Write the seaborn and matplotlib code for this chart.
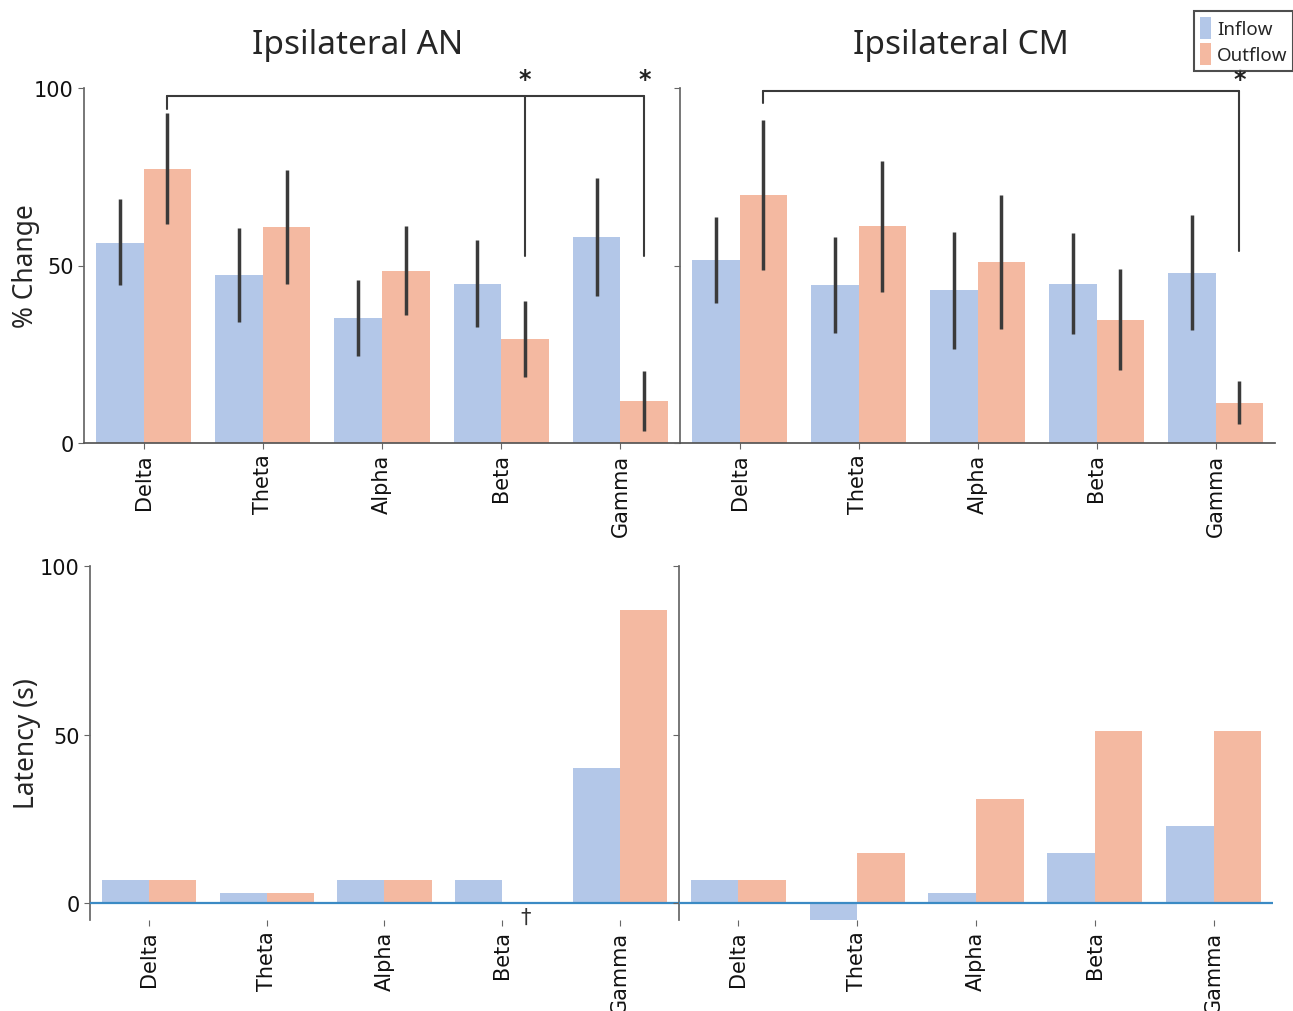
import matplotlib
matplotlib.use("Agg")
import matplotlib.pyplot as plt
from matplotlib.patches import Patch
import numpy as np
import pandas as pd
import seaborn as sns

bands = ["Delta", "Theta", "Alpha", "Beta", "Gamma"]
flows = ["Inflow", "Outflow"]

# % change, ipsilateral AN
an_in = [56.3, 47.3, 35.2, 44.8, 58.0]
an_in_lo = [44.5, 34.1, 24.5, 32.7, 41.4]
an_in_hi = [68.7, 60.6, 45.9, 57.2, 74.6]
an_out = [77.2, 60.8, 48.5, 29.3, 11.8]
an_out_lo = [61.7, 44.8, 36.1, 18.6, 3.4]
an_out_hi = [93.0, 76.9, 61.1, 40.0, 20.3]

# % change, ipsilateral CM
cm_in = [51.5, 44.5, 43.1, 44.8, 47.9]
cm_in_lo = [39.4, 31.0, 26.5, 30.7, 31.8]
cm_in_hi = [63.7, 58.0, 59.4, 59.2, 64.2]
cm_out = [69.9, 61.1, 51.0, 34.6, 11.3]
cm_out_lo = [48.7, 42.5, 32.1, 20.6, 5.4]
cm_out_hi = [91.0, 79.4, 69.9, 49.0, 17.5]

# latency (s)
an_lat_in = [7, 3, 7, 7, 40]
an_lat_out = [7, 3, 7, 0, 87]
cm_lat_in = [7, -5, 3, 15, 23]
cm_lat_out = [7, 15, 31, 51, 51]

# significance brackets: bar level, where each leg ends, which legs get a star
star_y = 102.6
an_bracket_y = 97.7
an_bracket_drops = {"Delta": 94.0, "Beta": 52.7, "Gamma": 52.7}
an_stars = ["Beta", "Gamma"]
cm_bracket_y = 99.2
cm_bracket_drops = {"Delta": 95.8, "Gamma": 54.1}
cm_stars = ["Gamma"]

colors = {"Inflow": "#b3c7e8", "Outflow": "#f4b9a1"}
err_color = "#3a3a3a"


def long_df(inflow, outflow):
    return pd.DataFrame({
        "band": bands * 2,
        "flow": ["Inflow"] * 5 + ["Outflow"] * 5,
        "value": list(inflow) + list(outflow),
    })


def bar_centers(ax):
    # patches come out hue by hue: inflow bars, then outflow bars
    xs = [p.get_x() + p.get_width() / 2 for p in ax.patches]
    return np.array(xs[:5]), np.array(xs[5:10])


def draw_bars(ax, inflow, outflow):
    sns.barplot(data=long_df(inflow, outflow), x="band", y="value", hue="flow",
                order=bands, hue_order=flows, palette=colors, errorbar=None,
                saturation=1, legend=False, ax=ax, linewidth=0)
    ax.set_xlabel("")
    ax.set_ylabel("")
    return bar_centers(ax)


def draw_err(ax, x, lo, hi):
    ax.vlines(x, lo, hi, color=err_color, lw=2.5, zorder=3)


def draw_bracket(ax, x_out, level, drops, stars):
    idx = [bands.index(b) for b in drops]
    xs = x_out[idx]
    ax.plot([xs.min(), xs.max()], [level, level], color=err_color, lw=1.5, clip_on=False)
    for b, x in zip(drops, xs):
        ax.plot([x, x], [level, drops[b]], color=err_color, lw=1.5, clip_on=False)
    for b in stars:
        ax.text(x_out[bands.index(b)], star_y, "*", ha="center", va="center",
                fontsize=17, fontweight="bold", color="#222222", clip_on=False,
                zorder=5)


sns.set_theme(style="ticks")
plt.rcParams["font.family"] = ["DejaVu Sans"]

fig = plt.figure(figsize=(12.93, 10.12), dpi=100)
W, H = 1293, 1012


def px_axes(x0, y0, x1, y1):
    return fig.add_axes([x0 / W, 1 - y1 / H, (x1 - x0) / W, (y1 - y0) / H])


ax_tl = px_axes(84, 89, 680, 444)
ax_tr = px_axes(680, 89, 1275, 444)
ax_bl = px_axes(90, 567, 679, 921)
ax_br = px_axes(679, 567, 1273, 921)

xi, xo = draw_bars(ax_tl, an_in, an_out)
draw_err(ax_tl, xi, an_in_lo, an_in_hi)
draw_err(ax_tl, xo, an_out_lo, an_out_hi)
draw_bracket(ax_tl, xo, an_bracket_y, an_bracket_drops, an_stars)

xi, xo = draw_bars(ax_tr, cm_in, cm_out)
draw_err(ax_tr, xi, cm_in_lo, cm_in_hi)
draw_err(ax_tr, xo, cm_out_lo, cm_out_hi)
draw_bracket(ax_tr, xo, cm_bracket_y, cm_bracket_drops, cm_stars)

xi, xo = draw_bars(ax_bl, an_lat_in, an_lat_out)
ax_bl.text(xo[bands.index("Beta")], -1.0, "\u2020", ha="center", va="top",
           fontsize=15, color="#333333")
draw_bars(ax_br, cm_lat_in, cm_lat_out)

for ax in (ax_tl, ax_tr):
    ax.set_ylim(0, 100)
    ax.set_xlim(-0.5, 4.5)
    sns.despine(ax=ax)
    ax.spines["bottom"].set_color("#555555")
for ax in (ax_bl, ax_br):
    ax.set_ylim(-5, 100)
    ax.set_xlim(-0.5, 4.5)
    sns.despine(ax=ax, bottom=True)
    ax.axhline(0, color="#3b8ac4", lw=1.6, zorder=4)

for ax in (ax_tl, ax_tr, ax_bl, ax_br):
    ax.set_yticks([0, 50, 100])
    ax.spines["left"].set_color("#666666")
    ax.tick_params(axis="both", labelsize=15, colors="#666666", labelcolor="#111111",
                   length=4, width=0.8)
    ax.tick_params(axis="x", rotation=90)
    ax.set_facecolor("none")

for ax in (ax_tr, ax_br):
    ax.tick_params(axis="y", labelleft=False)

label_font = ["Noto Sans", "DejaVu Sans"]
ax_tl.set_ylabel("% Change", fontsize=19, family=label_font)
ax_bl.set_ylabel("Latency (s)", fontsize=19, family=label_font)
ax_tl.yaxis.set_label_coords(-0.073, 0.5)
ax_bl.yaxis.set_label_coords(-0.083, 0.5)

fig.text(358 / W, 1 - 46 / H, "Ipsilateral AN", ha="center", va="center",
         fontsize=24, family=label_font)
fig.text(961 / W, 1 - 46 / H, "Ipsilateral CM", ha="center", va="center",
         fontsize=24, family=label_font)

handles = [Patch(facecolor=colors[f], edgecolor="none", label=f) for f in flows]
leg = fig.legend(handles=handles, loc="upper right", bbox_to_anchor=(1.0, 1 - 12 / H),
                 frameon=True, fancybox=False, handlelength=0.6, handleheight=1.45,
                 handletextpad=0.3, labelspacing=0.2, borderpad=0.3,
                 borderaxespad=0, prop={"family": label_font, "size": 13.5})
leg.get_frame().set_edgecolor("#222222")
leg.get_frame().set_linewidth(1.5)
leg.set_zorder(1)

fig.savefig("out.png", dpi=100)
